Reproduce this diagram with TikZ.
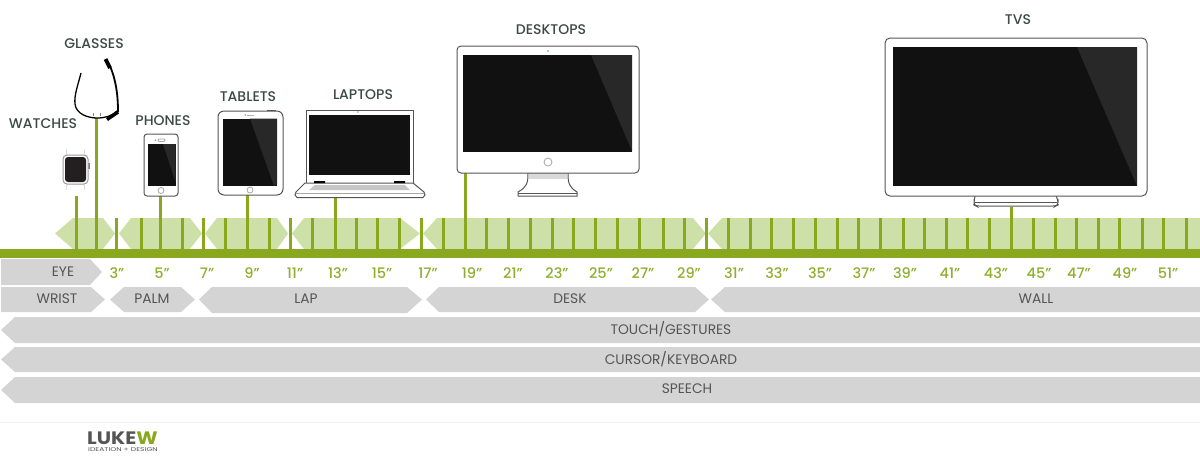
\documentclass[tikz,border=0pt]{standalone}
\usepackage{graphicx}
\usepackage{fontspec}
\setmainfont{Poppins}
\newfontfamily\medfont{Poppins Medium}
\definecolor{barGreen}{HTML}{8AA81E}
\definecolor{bandGreen}{HTML}{CCE0A8}
\definecolor{inchGreen}{HTML}{8FAE2E}
\definecolor{rowGray}{HTML}{D4D4D4}
\definecolor{rowText}{HTML}{555555}
\definecolor{headText}{HTML}{3C4A44}
\definecolor{screenBlack}{HTML}{111111}
\definecolor{glareGray}{HTML}{282828}
\definecolor{caseLine}{HTML}{555555}
\definecolor{watchFace}{HTML}{231F20}
\tikzset{
  band/.style={fill=bandGreen},
  row/.style={fill=rowGray},
  tick/.style={draw=barGreen, line width=3pt},
  tall/.style={draw=barGreen, line width=3pt},
  rowlabel/.style={text=rowText, font=\fontsize{13.8}{15}\selectfont, inner sep=0pt},
  inchlabel/.style={text=inchGreen, font=\fontsize{14.5}{16}\medfont, inner sep=0pt},
  headlabel/.style={text=headText, font=\fontsize{14}{16}\medfont, inner sep=0pt},
  case/.style={draw=caseLine, fill=white, line width=1pt},
  screen/.style={fill=screenBlack},
  glare/.style={fill=glareGray},
  cam/.style={fill=green!60!black, opacity=.6},
}
\begin{document}
\begin{tikzpicture}[x=1pt, y=-1pt]
\useasboundingbox (0,0) rectangle (1200,456);
% green band
\fill[band] (55,233.5) -- (73,218) -- (103,218) -- (115,233.5) -- (103,249) -- (73,249) -- cycle;
\fill[band] (119,233.5) -- (131,218) -- (190,218) -- (202,233.5) -- (190,249) -- (131,249) -- cycle;
\fill[band] (205,233.5) -- (217,218) -- (277,218) -- (288,233.5) -- (277,249) -- (217,249) -- cycle;
\fill[band] (292,233.5) -- (304,218) -- (400,218) -- (420,233.5) -- (400,249) -- (304,249) -- cycle;
\fill[band] (423,233.5) -- (437,218) -- (693,218) -- (706,233.5) -- (693,249) -- (437,249) -- cycle;
\fill[band] (708,233.5) -- (722,218) -- (1200,218) -- (1200,249) -- (722,249) -- cycle;
% ticks
\foreach \x in {116,141,182,203,225,269,290,312,356,377,399,421,443,486,508,530,552,573,595,617,639,663,684,706,728,750,771,793,815,837,858,880,903,924,946,967,989,1033,1055,1076,1098,1119,1142,1163,1186}
  \draw[tick] (\x,218) -- (\x,250);
\foreach \x/\y in {76/196,96/118,160/196,247/195,335/198,465/173,1011/207}
  \draw[tall] (\x,\y) -- (\x,250);
\fill[barGreen] (0,249) rectangle (1200,258);
% rows
\fill[row] (1,259) -- (90,259) -- (102,272) -- (90,285) -- (1,285) -- cycle;
\fill[row] (1,287) -- (91,287) -- (105,299.5) -- (91,312) -- (1,312) -- cycle;
\fill[row] (110,299.5) -- (124,287) -- (181,287) -- (195,299.5) -- (181,312) -- (124,312) -- cycle;
\fill[row] (199,299.5) -- (212,287) -- (407,287) -- (422,299.5) -- (407,313) -- (212,313) -- cycle;
\fill[row] (426,299.5) -- (439,287) -- (695,287) -- (709,299.5) -- (695,312) -- (439,312) -- cycle;
\fill[row] (711,299.5) -- (725,287) -- (1200,287) -- (1200,312) -- (725,312) -- cycle;
\foreach \t/\b in {317/343,347/372,377/403}
  \fill[row] (1,{(\t+\b)/2}) -- (15,\t) -- (1200,\t) -- (1200,\b) -- (15,\b) -- cycle;
\node[rowlabel] (eye) at (63,272) {EYE};
\node[rowlabel] (wrist) at (57,299) {WRIST};
\node[rowlabel] (palm) at (152,299) {PALM};
\node[rowlabel] (lap) at (306,299) {LAP};
\node[rowlabel] (desk) at (570,299) {DESK};
\node[rowlabel] (wall) at (1036,299) {WALL};
\node[rowlabel] (touch) at (671,329) {TOUCH/GESTURES};
\node[rowlabel] (cursor) at (671,359) {CURSOR/KEYBOARD};
\node[rowlabel] (speech) at (687,389) {SPEECH};
% sizes
\foreach \n/\x in {3/117,5/162,7/207,9/252,11/295,13/338,15/382,17/428,19/472,21/513,23/557,25/601,27/643,29/689,31/734,33/777,35/820,37/864,39/905,41/950,43/996,45/1039,47/1079,49/1125,51/1168}
  \node[inchlabel] (in\n) at (\x,273) {\n”};
% headings
\node[headlabel] (glasses) at (94,44) {GLASSES};
\node[headlabel] (watches) at (43,124) {WATCHES};
\node[headlabel] (phones) at (163,121) {PHONES};
\node[headlabel] (tablets) at (248,97) {TABLETS};
\node[headlabel] (laptops) at (363,95) {LAPTOPS};
\node[headlabel] (desktops) at (551,30) {DESKTOPS};
\node[headlabel] (tvs) at (1018,20) {TVS};
% watch
\draw[gray!35, line width=.7pt] (67,155) -- (66,149) (84,155) -- (85,149) (67,184) -- (66,190) (84,184) -- (85,190);
\fill[gray] (87.5,163) rectangle (89.5,169);
\draw[draw=gray!80, fill=white, line width=1pt, rounded corners=4pt] (63,155) rectangle (88,184);
\fill[watchFace, rounded corners=3pt] (65,157) rectangle (86,182);
% glasses
\draw[line width=1.3pt] (81,73) .. controls (78,85) and (74,95) .. (75,104) .. controls (76,114) and (88,118) .. (97,118) .. controls (105,118) and (112,116) .. (117,111);
\draw[line width=1.8pt] (110,66) .. controls (116,80) and (118,95) .. (118,112);
\draw[line width=4pt] (105.5,59) -- (110,68);
\draw[line width=3.5pt] (118,112) -- (107,119.5);
\draw[gray, line width=.7pt] (93,113) -- (93,116) (100,113) -- (100,116);
% phone
\draw[case, rounded corners=3pt] (144,134) rectangle (178,196);
\fill[screen] (147.5,144) rectangle (175.5,186);
\fill[glare] (163,144) -- (175.5,144) -- (175.5,182) -- cycle;
\draw[gray!70, line width=.8pt, rounded corners=1pt] (158,139) rectangle (165,141.5);
\fill[cam] (155.5,140.2) circle (.9);
\draw[gray!70, line width=.8pt] (161,190.5) circle (3);
% tablet
\fill[caseLine] (267,110) rectangle (276,112);
\draw[case, rounded corners=6pt] (218,111) rectangle (283,195);
\fill[screen] (223,118.5) rectangle (277,186);
\fill[glare] (250,118.5) -- (277,118.5) -- (277,184) -- (274,186) -- cycle;
\fill[gray!60] (247,114.5) rectangle (254,115.5);
\fill[cam] (245.2,115) circle (.9);
\draw[gray!70, line width=.8pt] (250,190) circle (3);
% laptop
\draw[case, line width=.9pt] (306,183) -- (306,110) -- (413,110) -- (413,183);
\fill[screen] (309,115) rectangle (410,175);
\fill[cam] (358,112) circle (.9);
\draw[case] (305,183) -- (413,183) -- (424,192) -- (425,195) -- (423,197.5) -- (297,197.5) -- (295,195) -- (296,192) -- cycle;
\fill[gray!45] (315,185) -- (405,185) -- (410,190) -- (309,190) -- cycle;
\fill[black] (314,181) rectangle (325,183) (394,181) rectangle (405,183);
\draw[gray!70, line width=.6pt] (296,193) -- (424,193);
% desktop
\draw[case] (528,173) .. controls (528,183) and (527,187) .. (518,192) -- (518,196) -- (577,196) -- (577,192) .. controls (569,187) and (568,183) .. (568,173);
\fill[gray!30] (529,173) rectangle (567,178.5);
\draw[caseLine, line width=.6pt] (518,193) -- (577,193);
\draw[case, rounded corners=4pt] (457,46) rectangle (639,173);
\fill[screen] (463,55) rectangle (632,152);
\fill[glare] (591,55) -- (632,55) -- (632,151) -- cycle;
\draw[gray!70, line width=.8pt] (548,162) circle (4);
\fill[cam] (548,51) circle (1);
% tv
\draw[case, rounded corners=3pt] (975,196) -- (974,202) -- (974,205) -- (976,206) -- (1056,206) -- (1058,205) -- (1058,200) -- (1056,196);
\draw[caseLine, line width=.6pt] (975,202) -- (1057,202);
\draw[case, rounded corners=5pt] (885,38) rectangle (1147,196);
\fill[screen] (893,47) rectangle (1137,186);
\fill[glare] (1077,47) -- (1137,47) -- (1137,186) -- cycle;
% footer
\draw[gray!12, line width=.7pt] (0,422) -- (1200,422);
\node[inner sep=0pt, anchor=west, text=rowText, font=\fontsize{18}{18}\selectfont\bfseries] (logo) at (87,438) {\scalebox{1.13}[1]{LUKE\textcolor{barGreen}{W}}};
\node[inner sep=0pt, anchor=west, text=rowText, font=\fontsize{5.5}{6}\selectfont] (tagline) at (88,450) {\scalebox{1.38}[1]{IDEATION + DESIGN}};
\end{tikzpicture}
\end{document}
